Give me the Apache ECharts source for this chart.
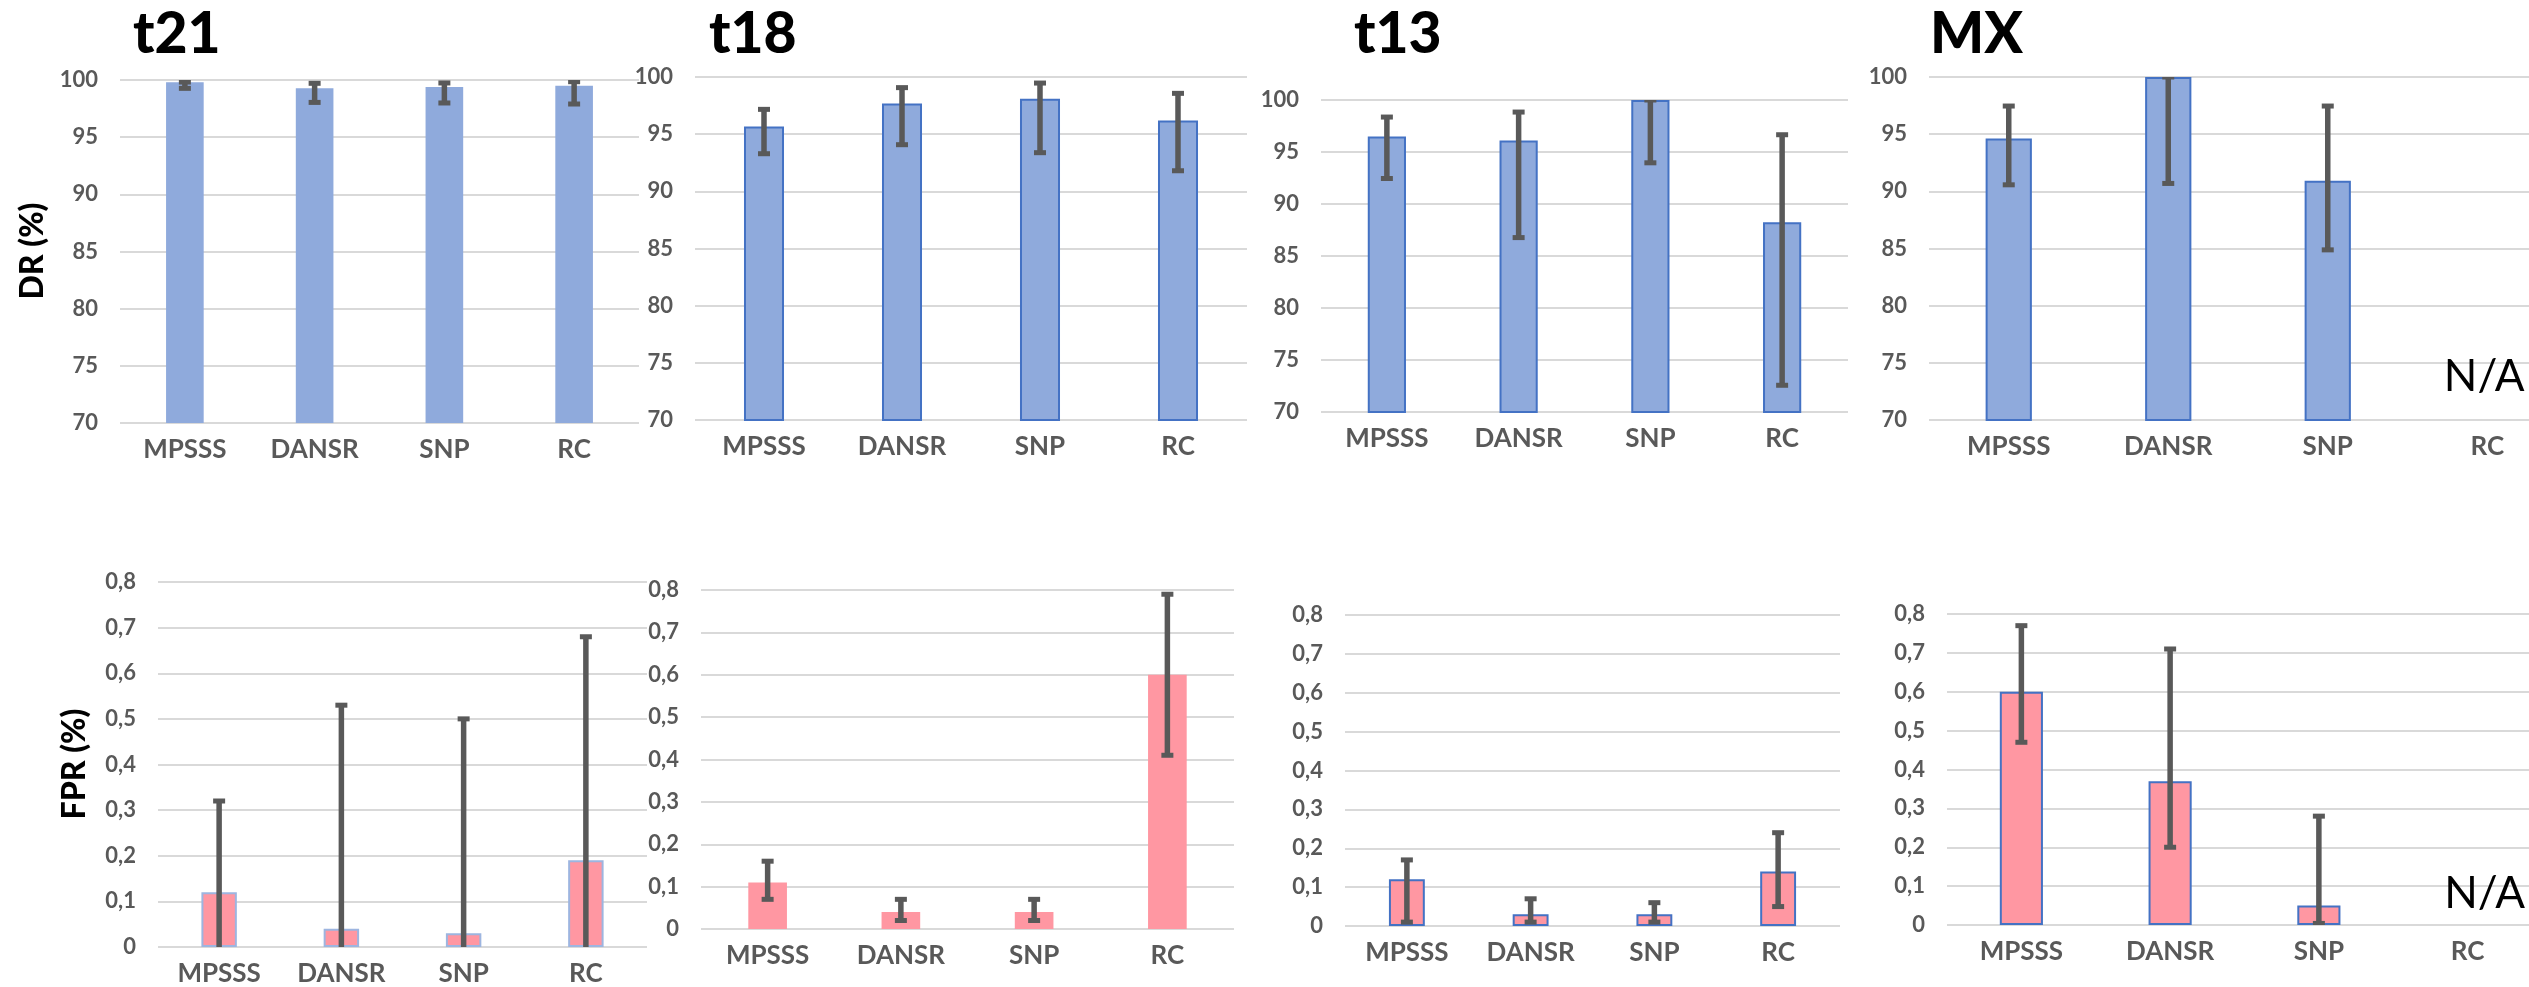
<!DOCTYPE html>
<html>
<head>
<meta charset="utf-8">
<script src="https://cdn.jsdelivr.net/npm/echarts@6/dist/echarts.min.js"></script>
<style>
  html, body { margin: 0; padding: 0; background: #fff; }
  #chart { width: 2529px; height: 987px; }
</style>
</head>
<body>
<div id="chart"></div>
<script>
// ---------------- data ----------------
const categories = ['MPSSS', 'DANSR', 'SNP', 'RC'];
const panelTitles = ['t21', 't18', 't13', 'MX'];

// Detection rate (%) : value, lower and upper error limits
const drT21 = [99.8, 99.27, 99.39, 99.5];
const drT21Low = [99.27, 98.04, 97.99, 97.9];
const drT21High = [99.82, 99.71, 99.74, 99.85];
const drT18 = [95.68, 97.69, 98.1, 96.2];
const drT18Low = [93.29, 94.08, 93.38, 91.8];
const drT18High = [97.17, 99.07, 99.47, 98.57];
const drT13 = [96.5, 96.1, 100, 88.24];
const drT13Low = [92.45, 86.77, 93.96, 72.57];
const drT13High = [98.36, 98.84, 100, 96.66];
const drMX = [94.63, 100, 90.93, null];
const drMXLow = [90.57, 90.69, 84.88, null];
const drMXHigh = [97.46, 100, 97.46, null];

// False positive rate (%) : value, lower and upper error limits
const fprT21 = [0.12, 0.04, 0.03, 0.19];
const fprT21Low = [-0.08, -0.45, -0.44, -0.30];
const fprT21High = [0.32, 0.53, 0.50, 0.68];
const fprT18 = [0.11, 0.04, 0.04, 0.60];
const fprT18Low = [0.07, 0.02, 0.02, 0.41];
const fprT18High = [0.16, 0.07, 0.07, 0.79];
const fprT13 = [0.12, 0.03, 0.03, 0.14];
const fprT13Low = [0.01, 0.01, 0.01, 0.05];
const fprT13High = [0.17, 0.07, 0.06, 0.24];
const fprMX = [0.60, 0.37, 0.05, null];
const fprMXLow = [0.47, 0.20, 0.004, null];
const fprMXHigh = [0.77, 0.71, 0.28, null];

// axis ticks
const drAxis = { min: 70, max: 100, interval: 5 };
const fprAxis = { min: 0, max: 0.8, interval: 0.1 };
const drAxisTitle = 'DR (%)';
const fprAxisTitle = 'FPR (%)';
const naText = 'N/A';
const naDR = 73.8;   // where the N/A note sits on the DR axis
const naFPR = 0.08;  // where the N/A note sits on the FPR axis

// ---------------- layout / style ----------------
const FONT = 'Lato';
const BLUE = '#8FAADC', BLUE_EDGE = '#4472C4', LIGHT_EDGE = '#9DB5E0';
const PINK = '#FF97A2';
const ERR = '#595959';
const GRID_LINE = '#D9D9D9';

const panels = [
  { row: 0, vals: drT21, low: drT21Low, high: drT21High, grid: { left: 120, top: 80, width: 519, height: 343 }, color: BLUE, edge: null },
  { row: 0, vals: drT18, low: drT18Low, high: drT18High, grid: { left: 695, top: 77, width: 552, height: 343 }, color: BLUE, edge: BLUE_EDGE },
  { row: 0, vals: drT13, low: drT13Low, high: drT13High, grid: { left: 1321, top: 100, width: 527, height: 312 }, color: BLUE, edge: BLUE_EDGE },
  { row: 0, vals: drMX, low: drMXLow, high: drMXHigh, grid: { left: 1929, top: 77, width: 638, height: 343 }, color: BLUE, edge: BLUE_EDGE, na: true, naOffset: [-3, 0] },
  { row: 1, vals: fprT21, low: fprT21Low, high: fprT21High, grid: { left: 158, top: 582, width: 489, height: 365 }, color: PINK, edge: LIGHT_EDGE },
  { row: 1, vals: fprT18, low: fprT18Low, high: fprT18High, grid: { left: 701, top: 590, width: 533, height: 339 }, color: PINK, edge: null },
  { row: 1, vals: fprT13, low: fprT13Low, high: fprT13High, grid: { left: 1345, top: 615, width: 495, height: 311 }, color: PINK, edge: BLUE_EDGE },
  { row: 1, vals: fprMX, low: fprMXLow, high: fprMXHigh, grid: { left: 1947, top: 614, width: 595, height: 311 }, color: PINK, edge: BLUE_EDGE, na: true, naOffset: [17, 0] }
];
const titleLefts = [128, 704, 1349, 1925];

function fmtFPR(v) {
  if (Math.abs(v) < 1e-9) return '0';
  return v.toFixed(1).replace('.', ',');
}

function renderErr(params, api) {
  const x = api.value(0), lo = api.value(1), hi = api.value(2);
  const pHi = api.coord([x, hi]);
  const pLo = api.coord([x, lo]);
  const cx = pHi[0];
  const st = { fill: ERR };
  return {
    type: 'group',
    children: [
      { type: 'rect', shape: { x: cx - 2.75, y: pHi[1], width: 5.5, height: pLo[1] - pHi[1] }, style: st },
      { type: 'rect', shape: { x: cx - 6, y: pHi[1] - 2.5, width: 12, height: 5 }, style: st },
      { type: 'rect', shape: { x: cx - 6, y: pLo[1] - 2.5, width: 12, height: 5 }, style: st }
    ]
  };
}

const grids = [], xAxes = [], yAxes = [], series = [];
panels.forEach((p, i) => {
  grids.push(Object.assign({ containLabel: false, outerBoundsMode: 'none' }, p.grid));
  xAxes.push({
    type: 'category', gridIndex: i, data: categories,
    axisLine: { show: false }, axisTick: { show: false },
    axisLabel: { color: '#595959', fontFamily: FONT, fontWeight: 'bold', fontSize: 26, margin: 14 }
  });
  const ax = p.row === 0 ? drAxis : fprAxis;
  yAxes.push({
    type: 'value', gridIndex: i, min: ax.min, max: ax.max, interval: ax.interval,
    axisLine: { show: false }, axisTick: { show: false },
    splitLine: { show: true, lineStyle: { color: GRID_LINE, width: 2 } },
    axisLabel: {
      color: '#595959', fontFamily: FONT, fontWeight: 'bold', fontSize: 22, margin: 22,
      formatter: p.row === 0 ? (v) => String(v) : fmtFPR
    }
  });
  series.push({
    type: 'bar', xAxisIndex: i, yAxisIndex: i, data: p.vals, barWidth: '29%',
    itemStyle: { color: p.color, borderColor: p.edge || p.color, borderWidth: p.edge ? 2 : 0 },
    silent: true, z: 2
  });
  const errData = [];
  categories.forEach((c, j) => {
    if (p.low[j] != null && p.high[j] != null) errData.push([j, p.low[j], p.high[j]]);
  });
  series.push({
    type: 'custom', xAxisIndex: i, yAxisIndex: i, data: errData,
    renderItem: renderErr, clip: true, silent: true, z: 3,
    encode: { x: 0, y: [1, 2] }
  });
  if (p.na) {
    series.push({
      type: 'scatter', xAxisIndex: i, yAxisIndex: i,
      data: [[3, p.row === 0 ? naDR : naFPR]],
      symbol: 'circle', symbolSize: 2, itemStyle: { color: 'rgba(255,255,255,0)' }, silent: true, z: 4,
      label: { show: true, position: 'inside', offset: p.naOffset, formatter: naText, color: '#000', opacity: 1, fontFamily: FONT, fontSize: 44, fontWeight: 'normal' }
    });
  }
});

const titles = panelTitles.map((t, i) => ({
  text: t, left: titleLefts[i], top: 1,
  textStyle: { fontFamily: FONT, fontWeight: 900, fontSize: 57, color: '#000' }
}));

const chart = echarts.init(document.getElementById('chart'), null, { renderer: 'canvas' });
chart.setOption({
  backgroundColor: '#fff',
  animation: false,
  title: titles,
  grid: grids,
  xAxis: xAxes,
  yAxis: yAxes,
  series: series,
  graphic: [
    { type: 'text', x: 33, y: 251, rotation: Math.PI / 2,
      style: { text: drAxisTitle, fontFamily: FONT, fontWeight: 900, fontSize: 32, fill: '#000', align: 'center', verticalAlign: 'middle' } },
    { type: 'text', x: 75, y: 764, rotation: Math.PI / 2,
      style: { text: fprAxisTitle, fontFamily: FONT, fontWeight: 900, fontSize: 32, fill: '#000', align: 'center', verticalAlign: 'middle' } }
  ]
});
</script>
</body>
</html>
